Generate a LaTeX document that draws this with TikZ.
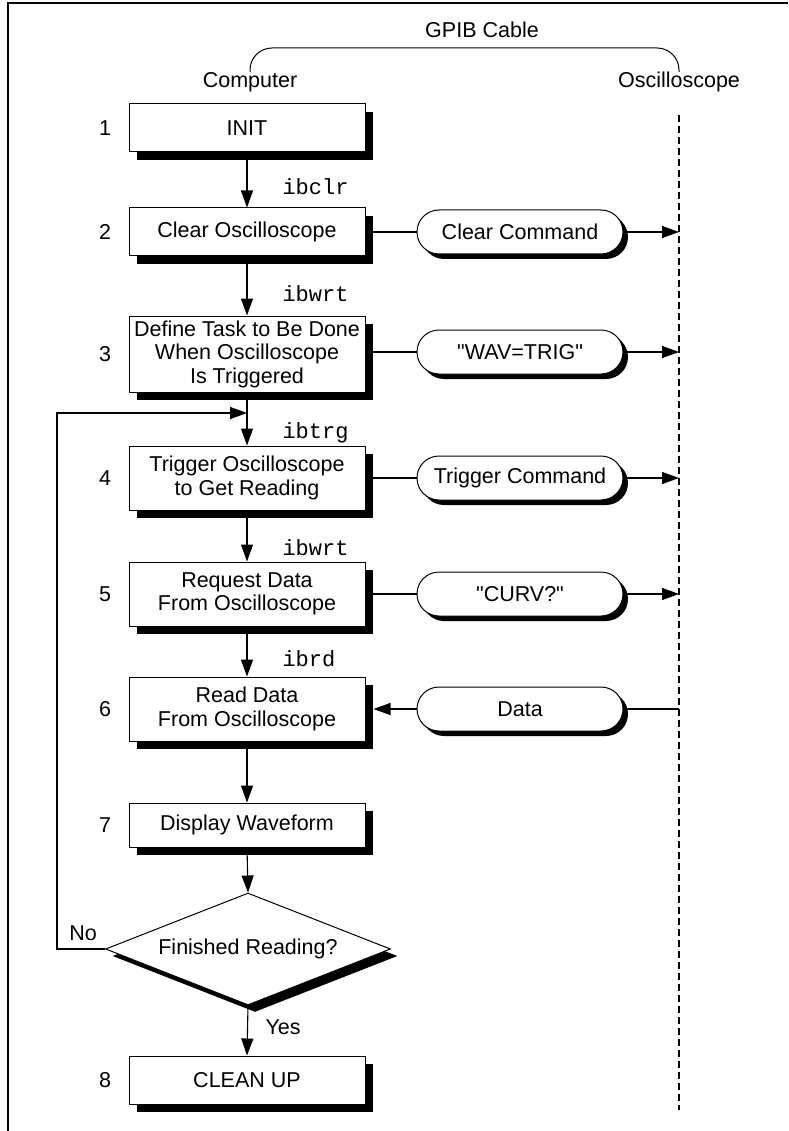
\documentclass[tikz,border=0pt]{standalone}
\usepackage{fontspec}
\newfontfamily\lsans{Liberation Sans}
\newfontfamily\monof{Liberation Mono}
\usetikzlibrary{arrows.meta,shapes.misc,shapes.geometric,shadows}
\begin{document}
\begin{tikzpicture}[x=1pt,y=-1pt,
  every node/.style={font=\lsans\fontsize{21.5}{23.5}\selectfont},
  stepbox/.style={draw, line width=1pt, fill=white, minimum width=236pt, inner sep=0pt, align=center,
     general shadow={fill=black, shadow xshift=8pt, shadow yshift=-8pt}},
  pill/.style={draw, line width=1pt, fill=white, rounded rectangle, minimum width=206pt, minimum height=44pt, inner sep=0pt,
     general shadow={fill=black, shadow xshift=5pt, shadow yshift=-5pt}},
  dec/.style={draw, line width=1pt, fill=white, diamond, minimum width=285pt, minimum height=112pt, inner sep=0pt, aspect=2.5,
     general shadow={fill=black, shadow xshift=7pt, shadow yshift=-7pt}},
  call/.style={anchor=west, font=\fontsize{22}{24}\monof},
  line/.style={line width=1.1pt},
  arr/.style={line width=1.1pt, -{Triangle[length=17pt,width=12pt]}}
]
\useasboundingbox (0,0) rectangle (788,1131);
% frame
\draw[line width=2.5pt] (8,1131) coordinate (fbl) -- (8,3) coordinate (ftl) -- (788,3) coordinate (ftr);

% header
\node (gpib) at (482,30) {GPIB Cable};
\node (comp) at (250,82) {Computer};
\node (osc) at (679,82) {Oscilloscope};
\coordinate (bl) at (250,72);
\coordinate (br) at (679,72);
\draw[line width=1pt, rounded corners=22pt] (bl) -- (250,48) -- (679,48) -- (br);
\coordinate (dtop) at (679,115);
\coordinate (dbot) at (679,1110);
\draw[line width=2.6pt, dash pattern=on 7pt off 4pt] (dtop) -- (dbot);

% boxes
\node[stepbox, minimum height=48pt] (b1) at (247,128) {INIT};
\node[stepbox, minimum height=48pt] (b2) at (247,232) {Clear Oscilloscope};
\node[stepbox, minimum height=76pt] (b3) at (247,354) {Define Task to Be Done\\When Oscilloscope\\Is Triggered};
\node[stepbox, minimum height=64pt] (b4) at (247,478) {Trigger Oscilloscope\\to Get Reading};
\node[stepbox, minimum height=64pt] (b5) at (247,594) {Request Data\\From Oscilloscope};
\node[stepbox, minimum height=64pt] (b6) at (247,709) {Read Data\\From Oscilloscope};
\node[stepbox, minimum height=44pt] (b7) at (247,825) {Display Waveform};
\node[dec] (d) at (248,949) {Finished Reading?};
\node[stepbox, minimum height=48pt] (b8) at (247,1080) {CLEAN UP};

% numbers
\node (n1) at (105,128) {1};
\node (n2) at (105,232) {2};
\node (n3) at (105,354) {3};
\node (n4) at (105,478) {4};
\node (n5) at (105,594) {5};
\node (n6) at (105,709) {6};
\node (n7) at (105,825) {7};
\node (n8) at (105,1080) {8};

% pills
\node[pill] (p2) at (520,232) {Clear Command};
\node[pill] (p3) at (520,352) {"WAV=TRIG"};
\node[pill] (p4) at (520,478) {Trigger Command};
\node[pill] (p5) at (520,594) {"CURV?"};
\node[pill] (p6) at (520,709) {Data};

% vertical flow
\draw[arr] (b1.south) -- (b2.north);
\draw[arr] (b2.south) -- (b3.north);
\draw[arr] (b3.south) -- (b4.north);
\draw[arr] (b4.south) -- (b5.north);
\draw[arr] (b5.south) -- (b6.north);
\draw[arr] (b6.south) -- (b7.north);
\draw[arr] (b7.south) -- (d.north);
\draw[arr] (d.south) -- (b8.north);

% call labels
\node[call] (c2) at (279,187) {ibclr};
\node[call] (c3) at (279,294) {ibwrt};
\node[call] (c4) at (279,433) {ibtrg};
\node[call] (c5) at (279,548) {ibwrt};
\node[call] (c6) at (279,659) {ibrd};
\node[anchor=west] (yes) at (262,1027) {Yes};
\node (no) at (83,933) {No};

% loop
\coordinate (lp) at (57,413);
\draw[arr] (d.west) -| (lp) -- (lp -| b4.north);

% to / from oscilloscope
\foreach \i in {2,4,5}{
  \draw[line] (b\i.east) -- (p\i.west);
  \draw[arr] (p\i.east) -- (p\i.east -| dtop);
}
\draw[line] (b3.east |- p3.west) -- (p3.west);
\draw[arr] (p3.east) -- (p3.east -| dtop);
\draw[line] (p6.east) -- (p6.east -| dtop);
\draw[arr] (p6.west) -- ([xshift=8pt]b6.east);
\end{tikzpicture}
\end{document}
